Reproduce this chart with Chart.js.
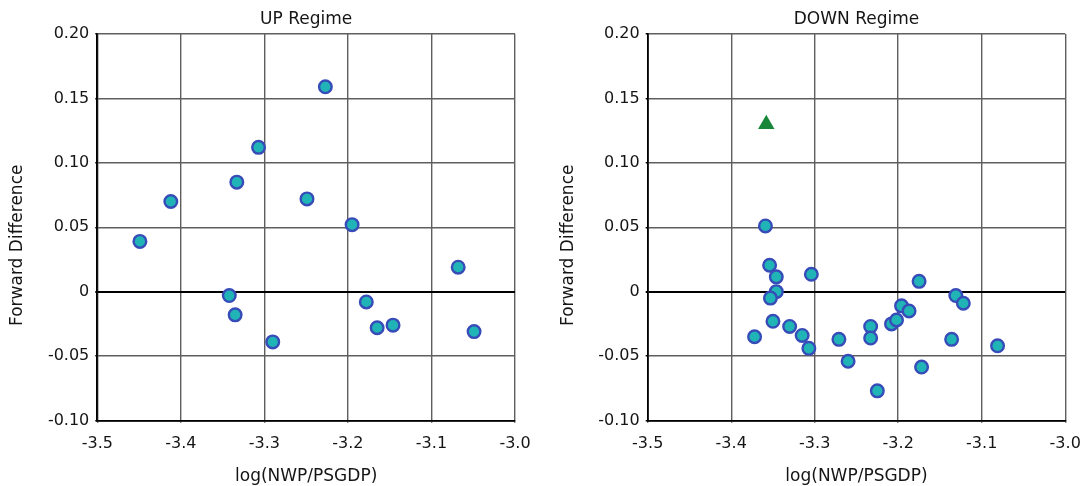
<!DOCTYPE html>
<html>
<head>
<meta charset="utf-8">
<title>Forward Difference by Regime</title>
<script src="https://cdn.jsdelivr.net/npm/chart.js@4.4.1/dist/chart.umd.min.js"></script>
<style>
    html, body { margin: 0; padding: 0; background: #fff; }
    #wrap { position: relative; width: 1081px; height: 486px; }
    .panel { position: absolute; top: 0; height: 486px; }
</style>
</head>
<body>
<div id="wrap">
    <div class="panel" style="left:0;width:540px"><canvas id="upChart" width="540" height="486"></canvas></div>
    <div class="panel" style="left:540px;width:541px"><canvas id="downChart" width="541" height="486"></canvas></div>
</div>
<script>
// UP regime observations
const upX = [-3.449, -3.412, -3.342, -3.335, -3.333, -3.307, -3.290, -3.249, -3.227,
             -3.195, -3.178, -3.165, -3.146, -3.068, -3.049];
const upY = [0.039, 0.070, -0.003, -0.018, 0.085, 0.112, -0.039, 0.072, 0.159,
             0.052, -0.008, -0.028, -0.026, 0.019, -0.031];

// DOWN regime observations
const downX = [-3.359, -3.354, -3.346, -3.346, -3.353, -3.350, -3.330, -3.372, -3.315,
               -3.307, -3.304, -3.271, -3.260, -3.233, -3.233, -3.225, -3.208, -3.202,
               -3.196, -3.187, -3.175, -3.172, -3.136, -3.131, -3.122, -3.081];
const downY = [0.051, 0.0205, 0.0115, 0.000, -0.005, -0.023, -0.027, -0.035, -0.034,
               -0.044, 0.0135, -0.037, -0.054, -0.027, -0.036, -0.077, -0.025, -0.022,
               -0.011, -0.015, 0.008, -0.0585, -0.037, -0.003, -0.009, -0.042];

// flagged point in the DOWN regime
const outlierX = [-3.358];
const outlierY = [0.130];

const xTicks = [-3.5, -3.4, -3.3, -3.2, -3.1, -3.0];
const xTickLabels = ["-3.5", "-3.4", "-3.3", "-3.2", "-3.1", "-3.0"];
const yTicks = [-0.10, -0.05, 0, 0.05, 0.10, 0.15, 0.20];
const yTickLabels = ["-0.10", "-0.05", "0", "0.05", "0.10", "0.15", "0.20"];

const FONT = "'DejaVu Sans', sans-serif";
const TEXT = "#151515";
const GRID = "#5e5e5e";

function toPoints(xs, ys) {
    return xs.map((x, i) => ({ x: x, y: ys[i] }));
}

// y axis title, drawn a bit below the middle of the plot
const yTitlePlugin = {
    id: "yTitle",
    afterDraw(chart, args, opts) {
        const { ctx, chartArea } = chart;
        ctx.save();
        ctx.translate(opts.x, (chartArea.top + chartArea.bottom) / 2 + 18);
        ctx.rotate(-Math.PI / 2);
        ctx.font = "17px " + FONT;
        ctx.fillStyle = TEXT;
        ctx.textAlign = "center";
        ctx.textBaseline = "middle";
        ctx.fillText("Forward Difference", 0, 0);
        ctx.restore();
    }
};

function makeChart(canvasId, title, datasets, yWidth, rightPad, yTitleX) {
    return new Chart(document.getElementById(canvasId), {
        type: "scatter",
        data: { datasets: datasets },
        options: {
            responsive: false,
            animation: false,
            devicePixelRatio: 1,
            events: [],
            layout: { padding: { left: 0, right: rightPad, top: 0, bottom: 0 } },
            plugins: {
                legend: { display: false },
                tooltip: { enabled: false },
                title: {
                    display: true,
                    text: title,
                    fullSize: false,
                    color: TEXT,
                    font: { family: FONT, size: 17, weight: "normal", lineHeight: 1 },
                    padding: { top: 11, bottom: 6 }
                },
                yTitle: { x: yTitleX }
            },
            scales: {
                x: {
                    type: "linear",
                    min: -3.5,
                    max: -3.0,
                    afterBuildTicks: s => { s.ticks = xTicks.map(v => ({ value: v })); },
                    afterFit: s => {
                        s.height = 65.5;
                        // end labels may hang past the plot edge
                        s.paddingLeft = 0;
                        s.paddingRight = 0;
                    },
                    ticks: {
                        color: TEXT,
                        padding: 11.5,
                        maxRotation: 0,
                        font: { family: FONT, size: 16 },
                        callback: (v, i) => xTickLabels[i]
                    },
                    grid: { color: GRID, lineWidth: 1.4, tickLength: 2, tickColor: "#000" },
                    border: { color: "#000", width: 1.8 },
                    title: {
                        display: true,
                        text: "log(NWP/PSGDP)",
                        color: TEXT,
                        font: { family: FONT, size: 17, lineHeight: 1 },
                        padding: { top: 0, bottom: 0.5 }
                    }
                },
                y: {
                    type: "linear",
                    min: -0.1,
                    max: 0.2,
                    afterBuildTicks: s => { s.ticks = yTicks.map(v => ({ value: v })); },
                    afterFit: s => { s.width = yWidth; },
                    ticks: {
                        color: TEXT,
                        padding: 6,
                        font: { family: FONT, size: 16 },
                        callback: (v, i) => yTickLabels[i]
                    },
                    grid: {
                        color: c => (c.tick && c.tick.value === 0 ? "#000" : GRID),
                        lineWidth: c => (c.tick && c.tick.value === 0 ? 2 : 1.4),
                        tickLength: 2,
                        tickColor: "#000"
                    },
                    border: { color: "#000", width: 1.8 }
                }
            }
        },
        plugins: [yTitlePlugin]
    });
}

const dotStyle = {
    pointStyle: "circle",
    pointRadius: 6.3,
    pointBorderWidth: 2.4,
    pointBackgroundColor: "#20b4b7",
    pointBorderColor: "#374cb8",
    showLine: false
};

makeChart("upChart", "UP Regime", [
    Object.assign({ label: "UP", data: toPoints(upX, upY) }, dotStyle)
], 97.3, 25, 17.7);

makeChart("downChart", "DOWN Regime", [
    Object.assign({ label: "DOWN", data: toPoints(downX, downY) }, dotStyle),
    {
        label: "Outlier",
        data: toPoints(outlierX, outlierY),
        pointStyle: "triangle",
        pointRadius: 9.5,
        pointBorderWidth: 0,
        pointBackgroundColor: "#18873a",
        showLine: false
    }
], 107.7, 15.8, 28.6);
</script>
</body>
</html>
